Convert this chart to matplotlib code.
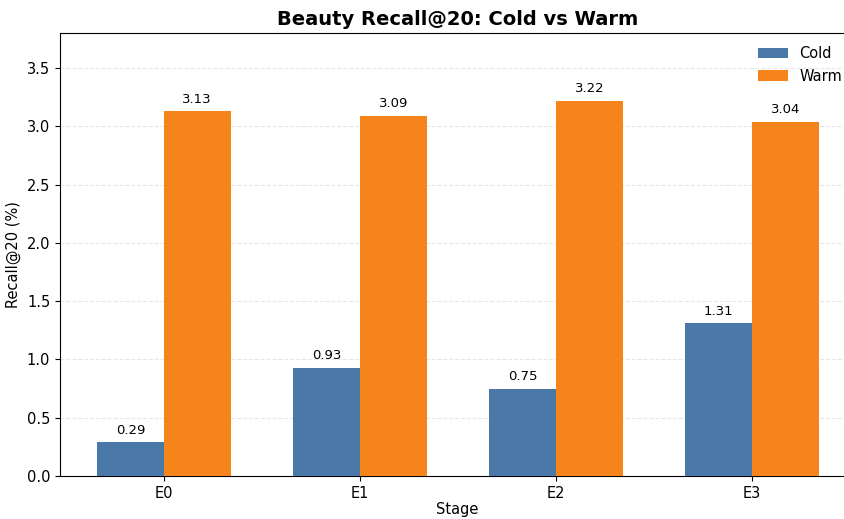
import numpy as np
import matplotlib
matplotlib.use("Agg")
import matplotlib.pyplot as plt

# Beauty Recall@20, cold vs warm users per stage
stages = ["E0", "E1", "E2", "E3"]
cold = [0.29, 0.93, 0.75, 1.31]
warm = [3.13, 3.09, 3.22, 3.04]

fig = plt.figure(figsize=(8.45, 5.19), dpi=100)
# right edge runs slightly past the figure, like the original crop
ax = fig.add_axes([0.071, 0.083, 0.941, 0.853])

x = np.arange(len(stages))
w = 0.34
b1 = ax.bar(x - w / 2, cold, w, color="#4a78a8", label="Cold", zorder=3)
b2 = ax.bar(x + w / 2, warm, w, color="#f5851a", label="Warm", zorder=3)

for bars in (b1, b2):
    for rect in bars:
        h = rect.get_height()
        ax.annotate(f"{h:.2f}", (rect.get_x() + rect.get_width() / 2, h),
                    xytext=(0, 4), textcoords="offset points",
                    ha="center", va="bottom", fontsize=9.5)

ax.set_xticks(x)
ax.set_xticklabels(stages, fontsize=10.5)
ax.tick_params(axis="y", labelsize=10.5)
ax.set_xlim(-0.53, 3.526)
ax.set_ylim(0, 3.8)
ax.set_yticks(np.arange(0, 3.6, 0.5))
ax.yaxis.grid(True, linestyle="--", alpha=0.3, zorder=0)
ax.set_xlabel("Stage", fontsize=10.5, labelpad=1)
ax.set_ylabel("Recall@20 (%)", fontsize=10.5)
ax.set_title("Beauty Recall@20: Cold vs Warm", fontsize=14, fontweight="bold")
ax.legend(loc="upper right", frameon=False, fontsize=10.5,
          bbox_to_anchor=(1.012, 0.936), bbox_transform=fig.transFigure)

fig.savefig("out.png", dpi=100)
